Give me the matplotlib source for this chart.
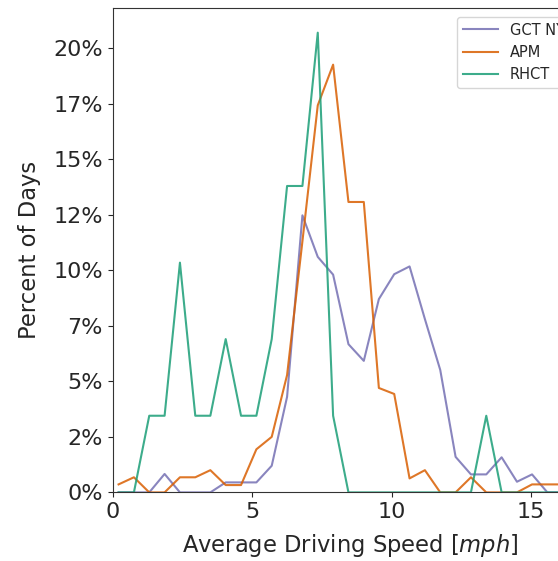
import matplotlib
matplotlib.use("Agg")
import matplotlib.pyplot as plt

# Bin centres (mph)
speed = [0.21, 0.76, 1.31, 1.86, 2.41, 2.96, 3.50, 4.05, 4.60, 5.15,
         5.70, 6.25, 6.80, 7.35, 7.90, 8.45, 9.00, 9.54, 10.09, 10.64,
         11.19, 11.74, 12.29, 12.84, 13.39, 13.94, 14.49, 15.03, 15.58, 16.13]

gct = [0, 0, 0, 0.83, 0, 0, 0, 0.45, 0.45, 0.45,
       1.2, 4.3, 12.47, 10.6, 9.8, 6.67, 5.92, 8.7, 9.82, 10.17,
       7.8, 5.51, 1.6, 0.81, 0.81, 1.58, 0.48, 0.81, 0, 0]

apm = [0.36, 0.68, 0, 0, 0.68, 0.68, 1.0, 0.33, 0.33, 1.94,
       2.5, 5.28, 11.3, 17.42, 19.25, 13.07, 13.07, 4.7, 4.43, 0.63,
       1.0, 0, 0, 0.68, 0, 0, 0, 0.36, 0.36, 0.36]

rhct = [0, 0, 3.45, 3.45, 10.34, 3.45, 3.45, 6.9, 3.45, 3.45,
        6.9, 13.79, 13.79, 20.69, 3.45, 0, 0, 0, 0, 0,
        0, 0, 0, 0, 3.45, 0, 0, 0, 0, 0]

series_names = ["GCT NY", "APM", "RHCT"]
series_colors = ["#7570b3", "#d95f02", "#1b9e77"]

y_ticks = [0, 2.5, 5, 7.5, 10, 12.5, 15, 17.5, 20]
y_tick_labels = ["0%", "2%", "5%", "7%", "10%", "12%", "15%", "17%", "20%"]
x_ticks = [0, 5, 10, 15]

W, H = 558, 561
fig = plt.figure(figsize=(W / 100, H / 100), dpi=100)
ax = fig.add_axes([112.7 / W, (H - 492.4) / H, 474.3 / W, (492.4 - 8) / H])

txt = "0.15"
for name, vals, col in zip(series_names, [gct, apm, rhct], series_colors):
    ax.plot(speed, vals, color=col, lw=1.5, alpha=0.85, label=name)

ax.set_yticks(y_ticks)
ax.set_yticklabels(y_tick_labels)
ax.set_xticks(x_ticks)
ax.set_xlim(0, 17)
ax.set_ylim(0, 21.8)
ax.tick_params(labelsize=16, colors=txt, labelcolor=txt)
for s in ax.spines.values():
    s.set_color("0.2")

ax.set_xlabel("Average Driving Speed [$mph$]", fontsize=16.3, color=txt,
              labelpad=7)
ax.set_ylabel("Percent of Days", fontsize=16.3, color=txt, labelpad=9)

leg = ax.legend(loc="upper left", bbox_to_anchor=(457.3 / W, 1 - 16.7 / H),
                bbox_transform=fig.transFigure, borderaxespad=0,
                fontsize=10.5, handlelength=2.4)
for t in leg.get_texts():
    t.set_color(txt)

fig.savefig("out.png", dpi=100)
